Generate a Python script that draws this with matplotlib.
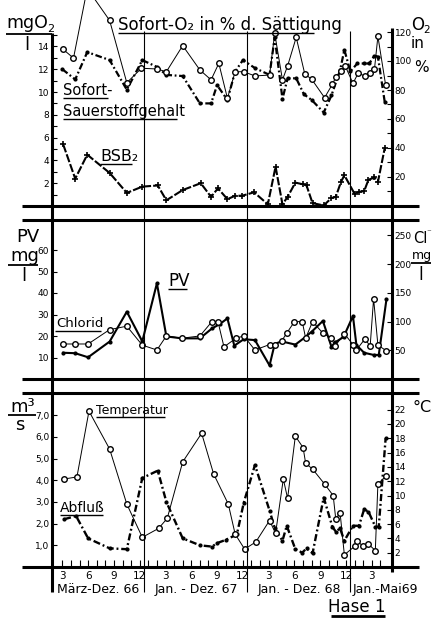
import numpy as np
import matplotlib
matplotlib.use('Agg')
import matplotlib.pyplot as plt
from matplotlib.lines import Line2D

plt.rcParams['font.family'] = ['Liberation Sans Narrow', 'DejaVu Sans']

# ── data (x = month index, 1 = Jan 1966) ────────────────────────────
o2_pct_m = [3.1, 4.3, 5.9, 8.5, 10.5, 12.2, 14.0, 15.1, 17.0, 19.0,
            20.3, 21.2, 22.2, 23.1, 24.1, 25.4, 27.1, 27.7, 28.6, 29.2,
            30.2, 31.2, 32.0, 33.5, 34.4, 34.8, 35.4, 35.9, 36.8, 37.4,
            38.2, 38.8, 39.3, 39.7, 40.6]
o2_pct = [108, 102, 150, 128, 85, 95, 94.5, 92.6, 110.6, 93.8,
          87, 98.4, 74.3, 92.6, 92.6, 89.7, 90.3, 119, 87, 96.6,
          116.3, 91, 87.4, 74.7, 83.9, 88.7, 93.3, 96.6, 84.6, 91.5,
          89.7, 92, 94.3, 117, 83.4]

o2_mg_m = [3.0, 4.5, 5.9, 8.5, 10.5, 12.3, 14.0, 15.1, 17.0, 19.0,
           20.3, 21.0, 22.2, 23.1, 24.0, 25.4, 27.1, 27.7, 28.6, 29.2,
           30.2, 31.1, 32.0, 33.4, 34.3, 35.3, 35.8, 36.5, 37.3, 38.1,
           38.7, 39.3, 39.7, 40.5]
o2_mg = [12.0, 11.1, 13.5, 12.8, 10.2, 12.8, 12.2, 11.5, 11.4, 9.0,
         9.0, 10.6, 9.3, 11.8, 12.8, 12.1, 11.5, 14.8, 9.4, 11.2,
         11.2, 9.8, 9.3, 8.2, 9.7, 11.9, 13.7, 11.8, 12.5, 12.5,
         12.5, 13.2, 13.1, 9.1]

bsb_m = [3.1, 4.5, 5.9, 8.5, 10.5, 12.3, 14.1, 15.1, 17.0, 19.1,
         20.3, 21.1, 22.2, 23.1, 23.9, 25.3, 26.9, 27.8, 28.6, 29.2,
         30.1, 31.0, 31.4, 32.1, 33.4, 34.3, 34.8, 35.4, 35.8, 37.0,
         37.5, 38.1, 38.6, 39.3, 39.7, 40.5]
bsb = [5.4, 2.4, 4.5, 2.9, 1.15, 1.7, 1.8, 0.5, 1.4, 2.0,
       0.8, 1.55, 0.6, 0.9, 0.9, 1.2, 0.15, 3.45, 0.15, 0.8,
       2.05, 1.9, 1.8, 0.25, 0.05, 0.7, 0.8, 2.1, 2.7, 1.05,
       1.25, 1.3, 2.3, 2.5, 2.1, 5.1]

pv_m = [3.1, 4.5, 6.0, 8.5, 10.5, 12.3, 14.0, 15.1, 16.9, 19.0,
        20.4, 21.3, 22.2, 23.0, 24.1, 25.4, 27.1, 27.7, 28.5, 30.1,
        31.2, 32.0, 33.3, 34.3, 34.7, 35.7, 36.8, 37.2, 38.1, 39.2,
        39.8, 40.7]
pv = [12.2, 12.0, 10.1, 17.4, 31.3, 17.5, 44.5, 19.8, 18.9, 18.9,
      23.5, 25.5, 28.2, 15.5, 18.5, 18.1, 6.3, 16.3, 17.5, 16.0,
      19.3, 22.0, 27.0, 15.0, 17.0, 19.5, 29.3, 15.8, 12.2, 11.2,
      11.2, 37.2]

cl_m = [3.1, 4.5, 6.0, 8.5, 10.5, 12.3, 14.0, 15.1, 16.9, 19.0,
        20.4, 21.1, 21.8, 23.2, 24.1, 25.4, 27.1, 27.7, 28.5, 29.1,
        30.0, 30.9, 31.3, 32.1, 33.3, 34.3, 34.7, 35.8, 36.8, 37.2,
        38.2, 38.8, 39.2, 39.7, 40.7]
cl = [61, 61, 61, 86, 92, 59, 50.5, 75, 71, 75,
      100, 100, 56, 71, 75, 50.5, 60, 60, 66, 80,
      100, 100, 71, 100, 80, 71, 57, 79, 60, 50.5,
      70, 57, 140, 59, 49]

q_m = [3.2, 4.6, 6.0, 8.5, 10.5, 12.3, 14.1, 15.1, 17.0, 19.0,
       20.4, 21.0, 22.0, 23.3, 24.1, 25.4, 27.1, 27.7, 28.6, 29.1,
       30.1, 30.9, 31.4, 32.1, 33.4, 34.4, 34.8, 35.3, 35.8, 36.8,
       37.5, 38.1, 38.6, 39.4, 39.8, 40.6]
q = [2.2, 2.35, 1.32, 0.86, 0.82, 4.1, 4.44, 3.0, 1.32, 1.0,
     0.94, 1.1, 1.25, 1.5, 2.96, 4.7, 2.6, 1.8, 1.21, 1.9,
     0.82, 0.66, 0.86, 0.63, 3.2, 1.86, 1.63, 1.78, 1.21, 1.9,
     1.9, 2.66, 2.55, 1.86, 1.86, 5.93]

t_m = [3.2, 4.7, 6.1, 8.5, 10.5, 12.3, 14.2, 15.2, 17.0, 19.2,
       20.6, 22.3, 23.1, 24.2, 25.5, 27.1, 27.8, 28.7, 29.2, 30.1,
       31.0, 31.3, 32.1, 33.5, 34.5, 34.8, 35.3, 35.8, 37.0, 37.3,
       38.0, 38.6, 39.4, 39.7, 40.6]
temp = [12.3, 12.6, 21.8, 16.5, 8.8, 4.15, 5.4, 6.8, 14.7, 18.7,
        13.0, 8.8, 4.6, 2.5, 3.5, 6.5, 4.7, 12.3, 9.6, 18.3,
        16.7, 14.5, 13.7, 11.6, 10.0, 6.7, 7.6, 1.7, 2.9, 3.6,
        2.9, 3.2, 2.3, 11.6, 12.7]

periods = ['März-Dez. 66', 'Jan. - Dez. 67', 'Jan. - Dez. 68', 'Jan.-Mai69']
month_ticks = list(range(3, 41))
month_labels = [str((m - 1) % 12 + 1) if m % 3 == 0 else '' for m in month_ticks]

# ── layout in pixels ────────────────────────────────────────────────
W, H = 432, 621
fig = plt.figure(figsize=(W / 100, H / 100), dpi=100)
fig.patch.set_facecolor('white')
XL = (1.80, 41.34)


def fx(x):
    return x / W


def fy(y):
    return 1 - y / H


def hline(y, x0, x1, lw):
    fig.add_artist(Line2D([fx(x0), fx(x1)], [fy(y), fy(y)],
                          transform=fig.transFigure, color='k', lw=lw,
                          solid_capstyle='butt'))


def vline(x, y0, y1, lw):
    fig.add_artist(Line2D([fx(x), fx(x)], [fy(y0), fy(y1)],
                          transform=fig.transFigure, color='k', lw=lw,
                          solid_capstyle='butt'))


def txt(x, y, s, size, ha='left', **kw):
    fig.text(fx(x), fy(y), s, fontsize=size, ha=ha, va='baseline', **kw)


def panel(top, bottom, ylim_l, ylim_r):
    ax = fig.add_axes([fx(52), fy(bottom), fx(392) - fx(52), (bottom - top) / H])
    ax.set_xlim(XL)
    ax.set_ylim(ylim_l)
    axr = ax.twinx()
    axr.set_ylim(ylim_r)
    for a in (ax, axr):
        a.set_facecolor('none')
        for s in a.spines.values():
            s.set_visible(False)
        a.tick_params(axis='y', which='both', direction='in', length=3.5,
                      width=0.8, labelsize=6.5, pad=2)
    ax.set_xticks([])
    return ax, axr


circ = dict(marker='o', ms=4, mfc='white', mec='k', mew=1.0, color='k', lw=0.7)
dots = dict(marker='o', ms=2.0, mfc='k', mec='k', color='k')
dashdot = (0, (3, 1.2, 0.8, 1.2))

# ── top panel: oxygen / BSB2 ────────────────────────────────────────
ax1, ax1r = panel(0, 206, (0, 206 / 11.4), (0, 206 / 1.45))
ax1.set_yticks(range(2, 15, 2))
ax1.set_yticks(range(1, 16, 2), minor=True)
ax1r.set_yticks(range(20, 121, 20))
ax1r.set_yticks(range(10, 121, 20), minor=True)
ax1r.plot(o2_pct_m, o2_pct, **circ)
ax1.plot(o2_mg_m, o2_mg, lw=1.6, ls=dashdot, **dots)
ax1.plot(bsb_m, bsb, color='k', lw=1.5, ls=(0, (4, 1)),
         marker='+', ms=5, mew=1.2)

# ── middle panel: PV / chloride ─────────────────────────────────────
ax2, ax2r = panel(220, 379, (0, 159 / 2.15), (0, 159 / 0.574))
ax2.set_yticks(range(10, 61, 10))
ax2r.set_yticks(range(50, 251, 50))
ax2r.plot(cl_m, cl, **circ)
ax2.plot(pv_m, pv, lw=1.5, **dots)

# ── bottom panel: discharge / temperature ───────────────────────────
ax3, ax3r = panel(393, 567, (0, 174 / 21.7), (0, 174 / 7.15))
ax3.set_yticks(range(1, 8))
ax3.set_yticklabels([f'{v},0' for v in range(1, 8)])
ax3r.set_yticks(range(2, 23, 2))
ax3.set_xticks(month_ticks)
ax3.set_xticklabels(month_labels)
ax3.tick_params(axis='x', direction='in', length=5, width=0.8,
                labelsize=7.5, pad=3)
ax3r.plot(t_m, temp, **circ)
ax3.plot(q_m, q, lw=1.7, ls=dashdot, **dots)

# ── frame lines ─────────────────────────────────────────────────────
for y in (206, 220, 379, 393, 567):
    hline(y, 22, 419, 2.2)
vline(52, 33, 592, 2.2)
vline(392, 28, 572, 2.2)
for x in (144, 247, 350):
    vline(x, 31, 592, 0.8)

# ── labels ──────────────────────────────────────────────────────────
txt(6, 28, 'mgO', 12.5)
txt(47, 32, '2', 8)
hline(34, 6, 52, 1.3)
txt(27, 50, 'l', 13, ha='center')

txt(411, 30, 'O', 12)
txt(423, 33, '2', 7.5)
txt(411, 48, 'in', 11)
txt(414, 72, '%', 11)

txt(118, 30, 'Sofort-O₂ in % d. Sättigung', 12)
hline(33, 118, 314, 1.0)
txt(63, 95, 'Sofort-', 10.5)
hline(98, 63, 108, 1.0)
txt(63, 116, 'Sauerstoffgehalt', 10.5)
hline(119, 63, 177, 1.0)
txt(100, 161, 'BSB₂', 11.5)
hline(164, 100, 132, 1.0)

txt(16, 242, 'PV', 13)
txt(10, 261, 'mg', 13)
hline(265, 8, 38, 1.3)
txt(24, 281, 'l', 13, ha='center')
txt(168, 286, 'PV', 12)
hline(289, 168, 187, 1.0)
txt(56, 327, 'Chlorid', 9.5)
hline(331, 55, 101, 1.0)

txt(413, 243, 'Cl', 10.5)
txt(426, 235, '⁻', 6.5)
txt(412, 259, 'mg', 9)
hline(263, 411, 431, 1.3)
txt(421, 280, 'l', 12, ha='center')

txt(10, 412, 'm³', 13)
hline(415, 8, 36, 1.3)
txt(20, 430, 's', 13, ha='center')
txt(96, 414, 'Temperatur', 9)
hline(417, 96, 165, 1.0)
txt(60, 512, 'Abfluß', 10)
hline(515, 60, 103, 1.0)
txt(413, 412, '°C', 11.5)

for xc, s in zip((98, 196, 299, 385), periods):
    txt(xc, 593, s, 9, ha='center')
txt(357, 612, 'Hase 1', 12, ha='center')
hline(616, 331, 385, 2.0)

fig.savefig('out.png', dpi=100, facecolor='white')
